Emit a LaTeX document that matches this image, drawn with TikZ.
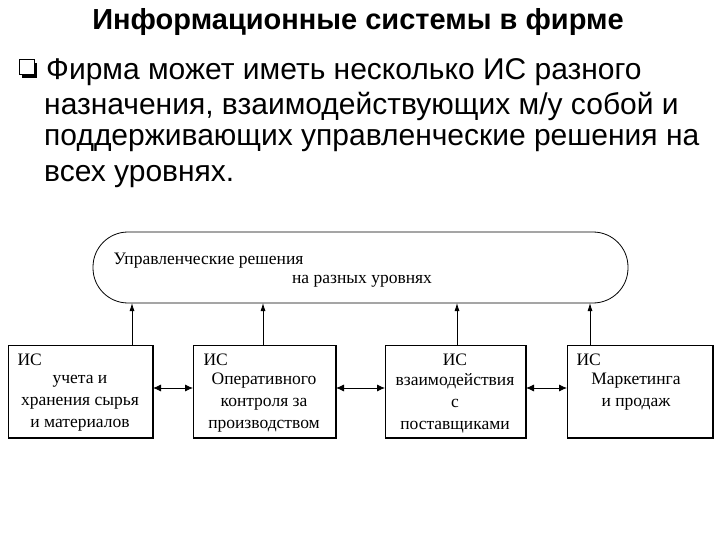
\documentclass[tikz,border=0pt]{standalone}
\usepackage{fontspec}
\setmainfont{Liberation Serif}
\newfontfamily\arl{Liberation Sans}
\usetikzlibrary{arrows.meta}
\begin{document}
\begin{tikzpicture}[x=1pt,y=-1pt,
  isbox/.style={draw,line width=1pt,minimum width=144pt,minimum height=92pt,anchor=north west,inner sep=0},
  shadowline/.style={line width=2pt},
  bt/.style={font=\fontsize{17.5}{22}\selectfont,align=center},
  link/.style={line width=0.8pt,{Latex[length=8pt,width=7pt]}-{Latex[length=8pt,width=7pt]}},
  up/.style={line width=0.8pt,-{Latex[length=8pt,width=5pt]}},
  bodytxt/.style={font=\arl\fontsize{30}{35}\selectfont,anchor=west,inner sep=0}]
\useasboundingbox (0,0) rectangle (720,540);
\node[font=\arl\bfseries\fontsize{29}{33}\selectfont] (title) at (358,22) {Информационные системы в фирме};
% bullet
\draw[fill=white,line width=1pt] (19,60) rectangle (34,75);
\fill (22,75) rectangle (37,78); \fill (34,63) rectangle (37,78);
\node[bodytxt] (l1) at (46,72) {Фирма может иметь несколько ИС разного};
\node[bodytxt] (l2) at (44,106) {назначения, взаимодействующих м/у собой и};
\node[bodytxt] (l3) at (44,141) {поддерживающих управленческие решения на};
\node[bodytxt] (l4) at (44,177) {всех уровнях.};
% pill
\draw[line width=0.8pt,rounded corners=35pt] (93,232) rectangle (628,303);
\node[bt,anchor=west] (p1) at (110,261) {Управленческие решения};
\node[bt] (p2) at (362,281) {на разных уровнях};
% boxes
\node[isbox] (b1) at (8,345) {};
\node[isbox,minimum width=142pt] (b2) at (193,345) {};
\node[isbox,minimum width=140pt] (b3) at (385,345) {};
\node[isbox,minimum width=145pt] (b4) at (567,345) {};
\foreach \b in {b1,b2,b3,b4}{\draw[shadowline] (\b.north east) -- (\b.south east) -- (\b.south west);}
\node[bt,anchor=west] at (14,360) {ИС};
\node[bt] at (80,403) {учета и\\хранения сырья\\и материалов};
\node[bt,anchor=west] at (200,360) {ИС};
\node[bt] at (264,403) {Оперативного\\контроля за\\производством};
\node[bt] at (455,360) {ИС};
\node[bt] at (455,403) {взаимодействия\\с\\поставщиками};
\node[bt,anchor=west] at (573,360) {ИС};
\node[bt] at (636,392) {Маркетинга\\и продаж};
% connectors
\draw[link] (b1.east|-0,388) -- (b2.west|-0,388);
\draw[link] (b2.east|-0,388) -- (b3.west|-0,388);
\draw[link] (b3.east|-0,388) -- (b4.west|-0,388);
\draw[up] (132,345) -- (132,303);
\draw[up] (263,345) -- (263,303);
\draw[up] (457,345) -- (457,303);
\draw[up] (590,345) -- (590,303);
\end{tikzpicture}
\end{document}
